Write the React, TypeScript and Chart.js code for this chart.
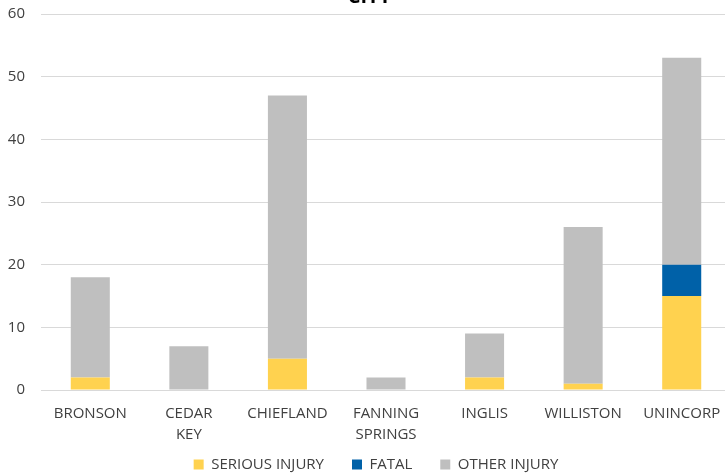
import React, { useEffect, useRef } from "react";
import { Chart, registerables } from "chart.js";

Chart.register(...registerables);

const categories: (string | string[])[] = [
  "BRONSON",
  ["CEDAR", "KEY"],
  "CHIEFLAND",
  ["FANNING", "SPRINGS"],
  "INGLIS",
  "WILLISTON",
  "UNINCORP",
];
const seriousInjury = [2, 0, 5, 0, 2, 1, 15];
const fatal = [0, 0, 0, 0, 0, 0, 5];
const otherInjury = [16, 7, 42, 2, 7, 25, 33];
const yTicks = [0, 10, 20, 30, 40, 50, 60];

const legendShift = {
  id: "legendShift",
  afterLayout(chart: any) {
    const l = chart.legend;
    if (l) {
      l.top -= 18;
      l.bottom -= 18;
      l.left -= 10;
      l.right -= 10;
    }
  },
};

export default function App() {
  const ref = useRef<HTMLCanvasElement>(null);
  useEffect(() => {
    if (!ref.current) return;
    const font = "'Open Sans', 'Liberation Sans', sans-serif";
    const chart = new Chart(ref.current, {
      type: "bar",
      data: {
        labels: categories,
        datasets: [
          { label: "SERIOUS INJURY", data: seriousInjury, backgroundColor: "#FFD24F" },
          { label: "FATAL", data: fatal, backgroundColor: "#0061A8" },
          { label: "OTHER INJURY", data: otherInjury, backgroundColor: "#BFBFBF" },
        ],
      },
      plugins: [legendShift],
      options: {
        animation: false,
        responsive: false,
        maintainAspectRatio: false,
        layout: { padding: { left: 8, right: 1, top: 0, bottom: 0 } },
        datasets: { bar: { barPercentage: 0.6, categoryPercentage: 0.66 } },
        plugins: {
          title: {
            display: true,
            text: "CITY",
            color: "#000",
            font: { family: font, size: 20, weight: "bold" },
            padding: { top: 0, bottom: 5 },
          },
          legend: {
            position: "bottom",
            fullSize: false,
            labels: {
              boxWidth: 10,
              boxHeight: 10,
              color: "#404040",
              font: { family: font, size: 15 },
              padding: 28,
            },
          },
          tooltip: { enabled: false },
        },
        scales: {
          x: {
            stacked: true,
            grid: { display: false },
            border: { display: false },
            ticks: {
              color: "#404040",
              font: { family: font, size: 15, lineHeight: 1.4 },
              maxRotation: 0,
              padding: 5,
            },
            afterFit: (axis: any) => {
              axis.height = 57;
            },
          },
          y: {
            stacked: true,
            min: 0,
            max: 60,
            afterBuildTicks: (axis: any) => {
              axis.ticks = yTicks.map((v) => ({ value: v }));
            },
            afterFit: (axis: any) => {
              axis.width = 33;
            },
            grid: { color: "#D9D9D9", lineWidth: 1, drawTicks: false },
            border: { display: false },
            ticks: { color: "#404040", font: { family: font, size: 15 }, padding: 16 },
          },
        },
      },
    });
    return () => chart.destroy();
  }, []);
  return (
    <div style={{ position: "fixed", left: 0, top: -15, width: 732, height: 515 }}>
      <canvas ref={ref} width={732} height={515} style={{ width: 732, height: 515 }} />
    </div>
  );
}
